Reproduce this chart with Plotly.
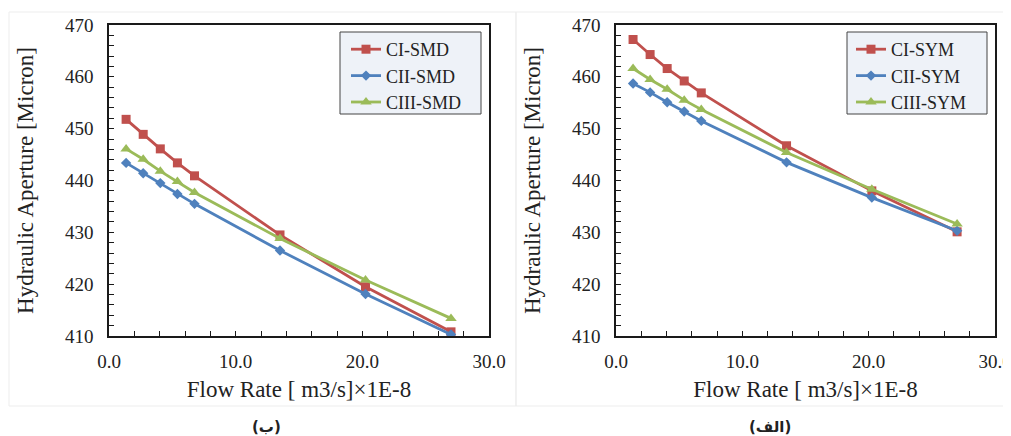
import plotly.graph_objects as go

# ---- data ----
flow_rate = [1.35, 2.7, 4.05, 5.4, 6.75, 13.5, 20.25, 27.0]

ci_smd = [451.8, 448.9, 446.1, 443.4, 440.9, 429.5, 419.5, 410.8]
cii_smd = [443.4, 441.4, 439.5, 437.4, 435.5, 426.5, 418.1, 410.3]
ciii_smd = [446.1, 444.1, 441.8, 439.8, 437.7, 428.8, 420.8, 413.4]

ci_sym = [467.2, 464.3, 461.6, 459.2, 456.9, 446.7, 438.0, 430.1]
cii_sym = [458.7, 457.0, 455.1, 453.3, 451.5, 443.5, 436.7, 430.3]
ciii_sym = [461.6, 459.5, 457.6, 455.5, 453.7, 445.4, 438.3, 431.6]

names_left = ["CI-SMD", "CII-SMD", "CIII-SMD"]
names_right = ["CI-SYM", "CII-SYM", "CIII-SYM"]
captions = ["(ب)", "(الف)"]
x_title = "Flow Rate [ m3/s]×1E-8"
y_title = "Hydraulic Aperture [Micron]"

colors = ["#C0504D", "#4F81BD", "#9BBB59"]
symbols = ["square", "diamond", "triangle-up"]
msizes = [9, 8, 10]

# page body has an 8px margin: the figure starts at (8, 8) in the window
OFF = 8
W, H = 1011 - OFF, 436 - OFF
FONT = "Liberation Serif"

fig = go.Figure()

left_series = [ci_smd, cii_smd, ciii_smd]
right_series = [ci_sym, cii_sym, ciii_sym]

for i, ys in enumerate(left_series):
    fig.add_trace(go.Scatter(
        x=flow_rate, y=ys, name=names_left[i], mode="lines+markers",
        line=dict(color=colors[i], width=2.8),
        marker=dict(symbol=symbols[i], size=msizes[i], color=colors[i]),
        xaxis="x", yaxis="y", legend="legend"))
for i, ys in enumerate(right_series):
    fig.add_trace(go.Scatter(
        x=flow_rate, y=ys, name=names_right[i], mode="lines+markers",
        line=dict(color=colors[i], width=2.8),
        marker=dict(symbol=symbols[i], size=msizes[i], color=colors[i]),
        xaxis="x2", yaxis="y2", legend="legend2"))

def px_x(p):
    return (p - OFF) / W

def px_y(p):
    return 1 - (p - OFF) / H

ydom = [px_y(336), px_y(25)]

common_x = dict(range=[0, 30], dtick=10, tickformat=".1f", showline=True,
                linecolor="#1a1a1a", linewidth=1.5, mirror=True, ticks="inside",
                ticklen=5, tickcolor="#1a1a1a", showgrid=False, zeroline=False,
                minor=dict(dtick=2, ticks="inside", ticklen=5, tickcolor="#1a1a1a", showgrid=False),
                tickfont=dict(family=FONT, size=19, color="#222"),
                ticklabelstandoff=7, ticklabeloverflow="allow",
                title=dict(text=x_title, font=dict(family=FONT, size=23, color="#222"), standoff=10),
                automargin=False)
common_y = dict(range=[410, 470], dtick=10, showline=True,
                linecolor="#1a1a1a", linewidth=1.5, mirror=True, ticks="inside",
                ticklen=5, tickcolor="#1a1a1a", showgrid=False, zeroline=False,
                minor=dict(dtick=2, ticks="inside", ticklen=5, tickcolor="#1a1a1a", showgrid=False),
                tickfont=dict(family=FONT, size=19, color="#222"),
                ticklabelstandoff=10,
                title=dict(text=y_title, font=dict(family=FONT, size=23, color="#222"), standoff=25),
                automargin=False)

legend_common = dict(bgcolor="rgba(0,0,0,0)", borderwidth=0,
                     font=dict(family=FONT, size=18, color="#222"),
                     xanchor="left", yanchor="top", itemwidth=30, tracegroupgap=0)

fig.update_layout(
    width=W, height=H,
    margin=dict(l=0, r=0, t=0, b=0),
    paper_bgcolor="white", plot_bgcolor="white",
    xaxis=dict(domain=[px_x(109), px_x(489)], anchor="y", **common_x),
    yaxis=dict(domain=ydom, anchor="x", **common_y),
    xaxis2=dict(domain=[px_x(616), px_x(995)], anchor="y2", **common_x),
    yaxis2=dict(domain=ydom, anchor="x2", **common_y),
    legend=dict(x=px_x(346), y=px_y(31), **legend_common),
    legend2=dict(x=px_x(851), y=px_y(31), **legend_common),
    showlegend=True,
)

# legend frames
for x0, x1 in [(340, 481), (847, 987)]:
    fig.add_shape(type="rect", xref="paper", yref="paper",
                  x0=px_x(x0), x1=px_x(x1), y0=px_y(114), y1=px_y(32),
                  line=dict(color="#444", width=1), fillcolor="#EEF2F8", layer="above")

# faint panel frames
for x0, x1 in [(9, 516), (516, 1010)]:
    fig.add_shape(type="rect", xref="paper", yref="paper",
                  x0=px_x(x0), x1=px_x(x1), y0=px_y(406), y1=px_y(12),
                  line=dict(color="#EDEDED", width=1), fillcolor="rgba(0,0,0,0)", layer="below")

for cx, txt in zip([266, 770], captions):
    fig.add_annotation(text="<b>" + txt + "</b>", x=px_x(cx), y=px_y(427), xref="paper", yref="paper",
                       showarrow=False, font=dict(family="DejaVu Sans", size=15, color="#222"),
                       xanchor="center", yanchor="middle")

fig.write_html("out.html")
